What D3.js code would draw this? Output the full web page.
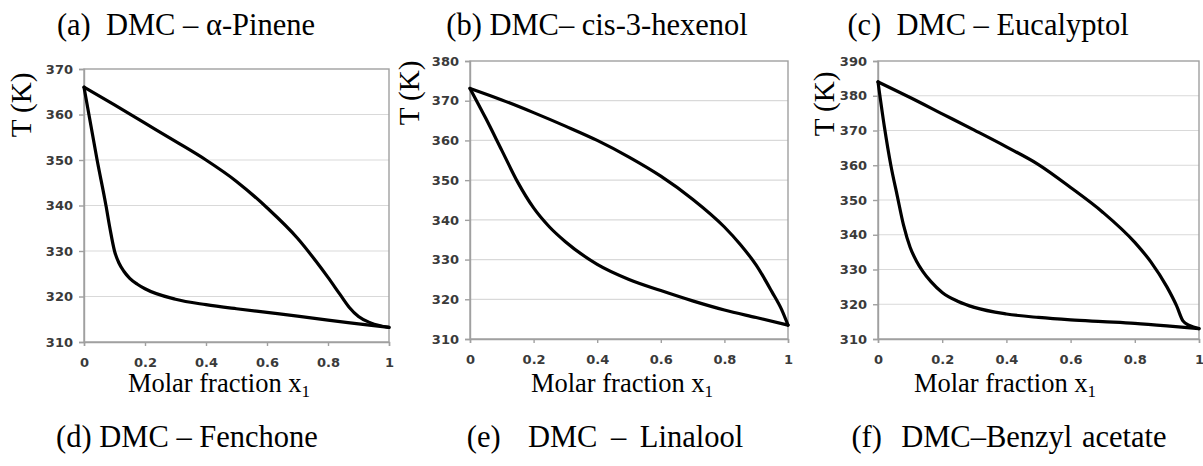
<!DOCTYPE html>
<html><head><meta charset="utf-8">
<script src="https://cdn.jsdelivr.net/npm/d3@7"></script>
<style>body{margin:0;background:#fff;overflow:hidden}</style>
</head><body>
<svg id="c" width="1203" height="466"></svg>
<script>
// ---- data ----
const xTickValues = [0, 0.2, 0.4, 0.6, 0.8, 1];
const xTickLabels = ["0", "0.2", "0.4", "0.6", "0.8", "1"];
const yTicksA = [310, 320, 330, 340, 350, 360, 370];
const yTicksB = [310, 320, 330, 340, 350, 360, 370, 380];
const yTicksC = [310, 320, 330, 340, 350, 360, 370, 380, 390];

const titlesTop = ["(a)  DMC – α-Pinene", "(b) DMC– cis-3-hexenol", "(c)  DMC – Eucalyptol"];
const titlesBottom = ["(d) DMC – Fenchone", "(e)  DMC – Linalool", "(f)  DMC–Benzyl acetate"];

// (a) DMC – α-Pinene
const aDewX = [0, 0.1, 0.2, 0.3, 0.4, 0.5, 0.6, 0.7, 0.76, 0.8, 0.84, 0.87, 0.9, 0.94, 1];
const aDewT = [366, 362.1, 358.1, 354.1, 350, 345.3, 339.5, 332.8, 327.8, 324.2, 320.4, 317.6, 315.6, 314.2, 313.2];
const aBubX = [0, 0.043, 0.072, 0.085, 0.1, 0.115, 0.13, 0.15, 0.175, 0.2, 0.3, 0.4, 0.5, 0.6, 0.7, 0.8, 0.9, 1];
const aBubT = [366, 350, 340, 335, 330, 327.3, 325.6, 324, 322.7, 321.7, 319.4, 318.2, 317.3, 316.5, 315.7, 314.8, 314, 313.2];

// (b) DMC – cis-3-hexenol
const bDewX = [0, 0.1, 0.2, 0.3, 0.4, 0.5, 0.6, 0.7, 0.8, 0.85, 0.9, 0.95, 0.98, 1];
const bDewT = [373.1, 370.2, 367, 363.6, 360, 355.8, 351, 345.2, 338.2, 333.8, 328.6, 321.8, 317.4, 313.5];
const bBubX = [0, 0.05, 0.1, 0.15, 0.2, 0.25, 0.3, 0.4, 0.5, 0.6, 0.7, 0.8, 0.9, 1];
const bBubT = [373.1, 365.5, 357.5, 349.5, 343, 338.2, 334.5, 328.8, 325, 322.2, 319.6, 317.3, 315.4, 313.5];

// (c) DMC – Eucalyptol
const cDewX = [0, 0.1, 0.2, 0.3, 0.4, 0.5, 0.6, 0.7, 0.8, 0.85, 0.9, 0.93, 0.95, 0.97, 1];
const cDewT = [384, 379.5, 374.8, 370.1, 365.3, 360.2, 353.6, 346.5, 337.8, 332.2, 325, 319.6, 315.2, 313.9, 313];
const cBubX = [0, 0.02, 0.04, 0.06, 0.08, 0.1, 0.12, 0.14, 0.165, 0.2, 0.25, 0.3, 0.4, 0.5, 0.6, 0.7, 0.8, 0.9, 1];
const cBubT = [384, 371, 360, 351.2, 342.6, 336.4, 332.4, 329.4, 326.5, 323.4, 320.8, 319.1, 317.2, 316.2, 315.5, 315, 314.5, 313.8, 313];

// ---- layout ----
const panels = [
  {x0: 84, x1: 389, y0: 69, y1: 342, ticks: yTicksA, dew: [aDewX, aDewT], bub: [aBubX, aBubT],
   title: titlesTop[0], tx: 186, ylx: 22, yly: 105, xlx: 219},
  {x0: 470, x1: 788, y0: 61, y1: 339, ticks: yTicksB, dew: [bDewX, bDewT], bub: [bBubX, bBubT],
   title: titlesTop[1], tx: 597, ylx: 410, yly: 93, xlx: 622},
  {x0: 878, x1: 1199, y0: 61, y1: 339, ticks: yTicksC, dew: [cDewX, cDewT], bub: [cBubX, cBubT],
   title: titlesTop[2], tx: 988, ylx: 825, yly: 104, xlx: 1005}
];
const bottomTitleX = [187, 605, 1009];
const bottomWordSpacing = [0, 6, 2];

const svg = d3.select("#c");
const serif = "'Liberation Serif','Times New Roman',serif";
const tickFont = "'DejaVu Sans',sans-serif";

panels.forEach(p => {
  const x = d3.scaleLinear().domain([0, 1]).range([p.x0, p.x1]);
  const y = d3.scaleLinear().domain([d3.min(p.ticks), d3.max(p.ticks)]).range([p.y1, p.y0]);
  const g = svg.append("g");

  // gridlines
  g.append("g").selectAll("line").data(p.ticks.slice(1, -1)).join("line")
    .attr("x1", p.x0).attr("x2", p.x1)
    .attr("y1", d => y(d)).attr("y2", d => y(d))
    .attr("stroke", "#d9d9d9").attr("stroke-width", 1.2);

  // frame
  g.append("rect").attr("x", p.x0).attr("y", p.y0)
    .attr("width", p.x1 - p.x0).attr("height", p.y1 - p.y0)
    .attr("fill", "none").attr("stroke", "#a0a0a0").attr("stroke-width", 1.4);

  // y axis
  const ya = g.append("g").attr("transform", `translate(${p.x0},0)`)
    .call(d3.axisLeft(y).tickValues(p.ticks).tickSize(5).tickPadding(6).tickFormat(d3.format("d")));
  ya.select(".domain").attr("stroke", "#a0a0a0").attr("stroke-width", 1.4);
  ya.selectAll(".tick line").attr("stroke", "#a0a0a0").attr("stroke-width", 1.4);
  ya.selectAll(".tick text").attr("font-family", tickFont).attr("font-weight", "bold")
    .attr("font-size", 13).attr("fill", "#3a3a3a");

  // x axis
  const xa = g.append("g").attr("transform", `translate(0,${p.y1})`)
    .call(d3.axisBottom(x).tickValues(xTickValues).tickSize(4).tickPadding(12)
      .tickFormat((d, i) => xTickLabels[i]));
  xa.select(".domain").attr("stroke", "#a0a0a0").attr("stroke-width", 1.4);
  xa.selectAll(".tick line").attr("stroke", "#a0a0a0").attr("stroke-width", 1.4);
  xa.selectAll(".tick text").attr("font-family", tickFont).attr("font-weight", "bold")
    .attr("font-size", 13).attr("fill", "#3a3a3a");

  // curves
  const line = d3.line().x(d => x(d[0])).y(d => y(d[1])).curve(d3.curveMonotoneX);
  [p.dew, p.bub].forEach(s => {
    const pts = s[0].map((v, i) => [v, s[1][i]]);
    g.append("path").attr("d", line(pts)).attr("fill", "none")
      .attr("stroke", "#000").attr("stroke-width", 3.2)
      .attr("stroke-linejoin", "round").attr("stroke-linecap", "round");
  });

  // titles
  g.append("text").attr("x", p.tx).attr("y", 35).attr("text-anchor", "middle")
    .attr("font-family", serif).attr("font-size", 30.5).attr("fill", "#000")
    .style("white-space", "pre").text(p.title);

  // y label
  g.append("text").attr("transform", `translate(${p.ylx + 9},${p.yly}) rotate(-90)`)
    .attr("text-anchor", "middle").attr("font-family", serif).attr("font-size", 29)
    .text("T (K)");

  // x label
  const xl = g.append("text").attr("x", p.xlx).attr("y", 392).attr("text-anchor", "middle")
    .attr("font-family", serif).attr("font-size", 26.5);
  xl.append("tspan").text("Molar fraction x");
  xl.append("tspan").attr("font-size", 17).attr("dy", 5).text("1");
});

titlesBottom.forEach((t, i) => {
  svg.append("text").attr("x", bottomTitleX[i]).attr("y", 447).attr("text-anchor", "middle")
    .attr("font-family", serif).attr("font-size", 30.5)
    .style("white-space", "pre").style("word-spacing", bottomWordSpacing[i] + "px").text(t);
});
</script>
</body></html>
